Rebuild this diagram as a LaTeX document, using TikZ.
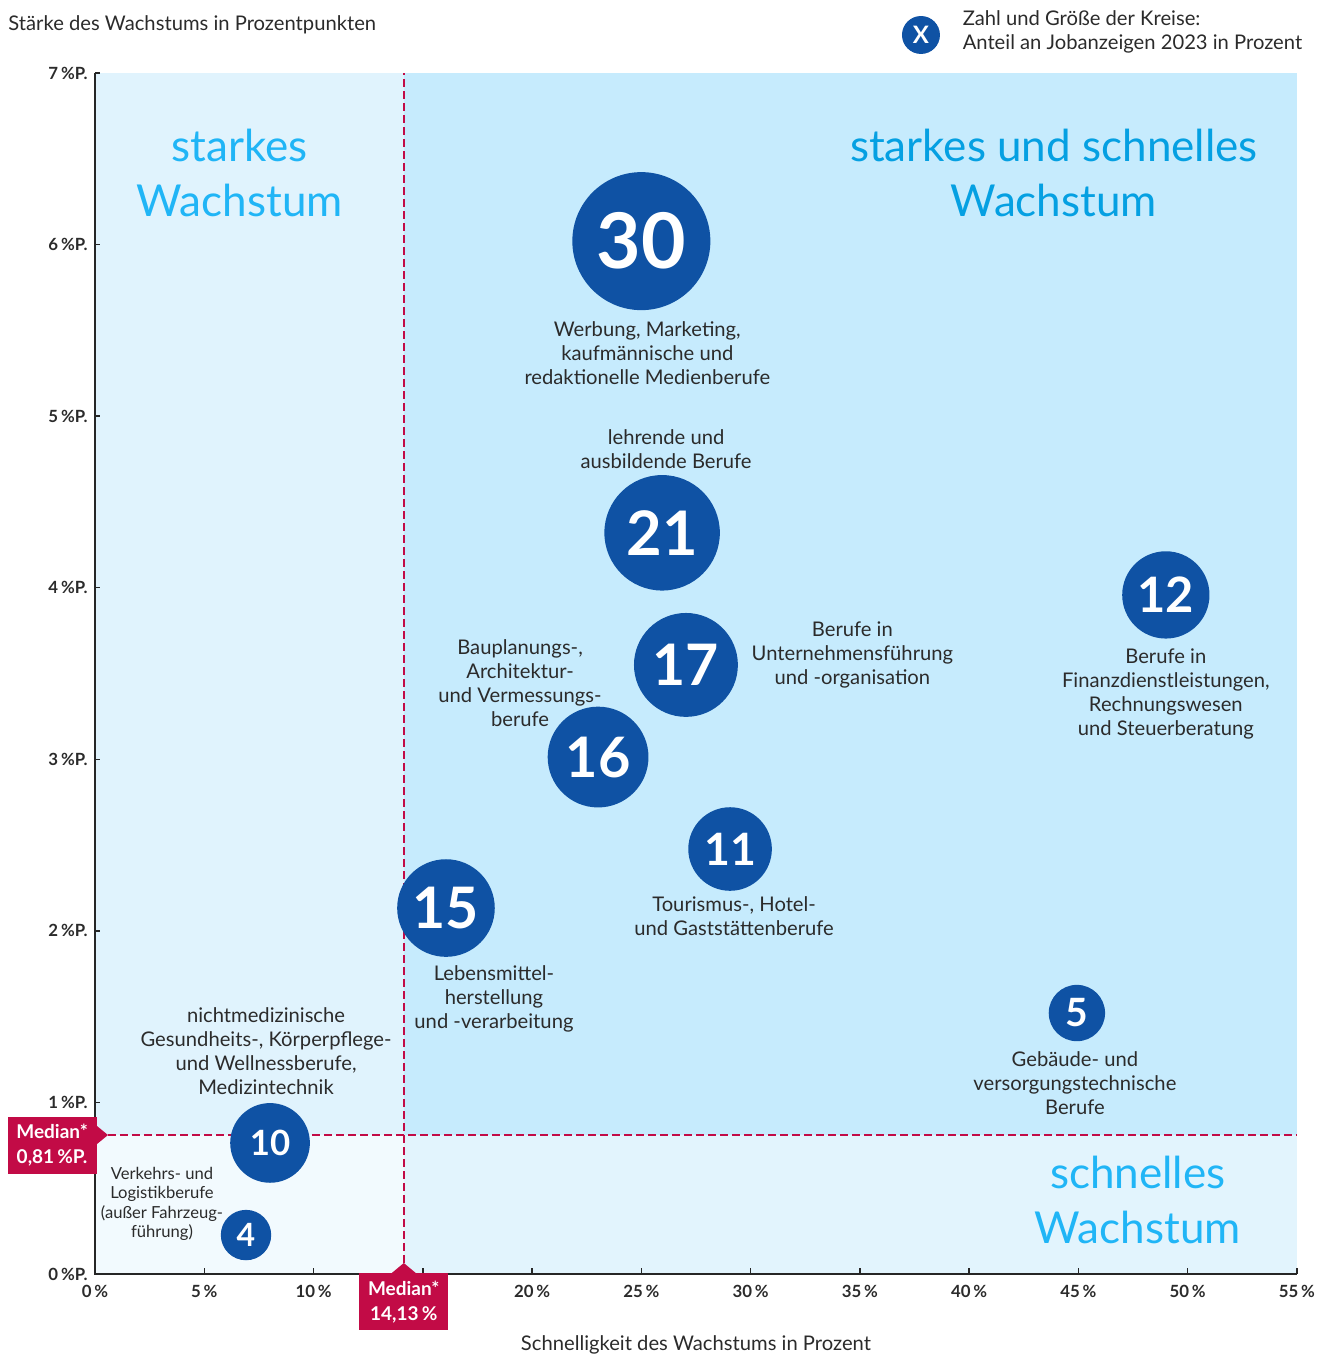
\documentclass[tikz,border=0pt]{standalone}
\usepackage{fontspec}
\setmainfont{Lato}
\usetikzlibrary{positioning}

\definecolor{bubbleblue}{HTML}{0F52A4}
\definecolor{medianred}{HTML}{C20B46}
\definecolor{fieldul}{HTML}{E0F3FD}
\definecolor{fieldur}{HTML}{C6EBFD}
\definecolor{fieldll}{HTML}{F2FAFE}
\definecolor{fieldlr}{HTML}{E2F4FD}
\definecolor{quaddark}{HTML}{05A0E2}
\definecolor{quadlight}{HTML}{20B5F6}
\definecolor{labelgray}{HTML}{2B2B2B}

\tikzset{
  bubble/.style 2 args={circle, fill=bubbleblue, text=white, inner sep=0pt,
    minimum size={12.6pt*sqrt(#1)}, font=\fontsize{#2}{#2}\selectfont\bfseries},
  lbl/.style={align=center, inner sep=0pt, text=labelgray,
    font=\fontsize{10.1}{12}\selectfont},
  quad/.style={align=center, inner sep=0pt, text=quadlight,
    font=\fontsize{22}{27.5}\selectfont},
  medline/.style={medianred, line width=1pt, dash pattern=on 4pt off 2pt},
  medbox/.style={fill=medianred, text=white, align=center, inner sep=0pt,
    minimum width=44.5pt, minimum height=28.5pt,
    font=\fontsize{9.5}{12.5}\selectfont\bfseries},
  axis/.style={draw=black!85, line width=0.75pt},
  ticklbl/.style={inner sep=0pt, text=labelgray,
    font=\fontsize{8.4}{9}\selectfont\bfseries}
}

\begin{document}
\begin{tikzpicture}[x=10.927pt, y=85.786pt]
\useasboundingbox (-4.3469,-0.4779) rectangle (56.418,7.4255);

% quadrant fields
\fill[fieldul] (0,0.81) rectangle (14.13,7);
\fill[fieldur] (14.13,0.81) rectangle (55,7);
\fill[fieldll] (0,0) rectangle (14.13,0.81);
\fill[fieldlr] (14.13,0) rectangle (55,0.81);

\node[quad] (qstark) at (6.63,6.415) {starkes\\Wachstum};
\node[quad, text=quaddark] (qbeide) at (43.88,6.415) {starkes und schnelles\\Wachstum};
\node[quad] (qschnell) at (47.72,0.434) {schnelles\\Wachstum};

% median lines
\coordinate (ymed) at (0.595,0.81);
\coordinate (ymedend) at (55,0.81);
\coordinate (xmed) at (14.13,0.064);
\coordinate (xmedend) at (14.13,7);
\draw[medline] (xmed) -- (xmedend);
\draw[medline] (ymed) -- (ymedend);

% axes
\draw[axis] (0,7) -- (0,0) -- (55,0);
\foreach \y in {1,...,7}
  \draw[axis] (0,\y) -- ++(2.5pt,0);
\foreach \x in {5,10,...,55}
  \draw[axis] (\x,0) -- ++(0,3pt);
\foreach \y in {0,...,7}
  \node[ticklbl, anchor=east] (ty\y) at (0,\y) [xshift=-3.5pt] {\y\,\%P.};
\foreach \x in {0,5,10,20,25,30,35,40,45,50,55}
  \node[ticklbl, anchor=north] (tx\x) at (\x,0) [yshift=-5.5pt] {\x\,\%};

\node[lbl, anchor=west] (ytitle) at (-3.98,7.2798) {Stärke des Wachstums in Prozentpunkten};
\node[lbl] (xtitle) at (27.5,-0.4138) {Schnelligkeit des Wachstums in Prozent};

% median boxes
\node[medbox, left=5.5pt of ymed, yshift=-5.25pt] (ybox) {Median*\\0,81\,\%P.};
\fill[medianred] (ymed) -- ++(-5.5pt,4.5pt) -- ++(0,-9pt) -- cycle;
\node[medbox, below=5pt of xmed] (xbox) {Median*\\14,13\,\%};
\fill[medianred] (xmed) -- ++(-6pt,-5pt) -- ++(12pt,0) -- cycle;

% bubbles
\node[bubble={30}{38.4}] (c30) at (25,6.02) {30};
\node[bubble={21}{30.7}] (c21) at (25.95,4.32) {21};
\node[bubble={17}{28.6}] (c17) at (27.04,3.55) {17};
\node[bubble={16}{27.9}] (c16) at (23.02,3.013) {16};
\node[bubble={12}{24.4}] (c12) at (49,3.958) {12};
\node[bubble={11}{22.3}] (c11) at (29.06,2.477) {11};
\node[bubble={15}{28.6}] (c15) at (16.06,2.133) {15};
\node[bubble={5}{19.5}] (c5) at (44.93,1.521) {5};
\node[bubble={10}{17.4}] (c10) at (8.01,0.764) {10};
\node[bubble={4}{16}] (c4) at (6.91,0.227) {4};

\node[lbl, below=5.5pt of c30, xshift=3pt] (l30) {Werbung, Marketing,\\kaufmännische und\\redaktionelle Medienberufe};
\node[lbl, above=3pt of c21, xshift=2pt] (l21) {lehrende und\\ausbildende Berufe};
\node[lbl, right=6.5pt of c17, yshift=5pt] (l17) {Berufe in\\Unternehmensführung\\und -organisation};
\node[lbl] (l16) at (19.45,3.445) {Bauplanungs-,\\Architektur-\\und Vermessungs-\\berufe};
\node[lbl, below=4.5pt of c12] (l12) {Berufe in\\Finanzdienstleistungen,\\Rechnungswesen\\und Steuerberatung};
\node[lbl, below=2.5pt of c11, xshift=2pt] (l11) {Tourismus-, Hotel-\\und Gaststättenberufe};
\node[lbl, below=4pt of c15, xshift=24pt] (l15) {Lebensmittel-\\herstellung\\und -verarbeitung};
\node[lbl, below=5pt of c5, xshift=-1pt] (l5) {Gebäude- und\\versorgungstechnische\\Berufe};
\node[lbl, above=4pt of c10, xshift=-2pt] (l10) {nichtmedizinische\\Gesundheits-, Körperpflege-\\und Wellnessberufe,\\Medizintechnik};
\node[lbl, font=\fontsize{8.3}{9.75}\selectfont] (l4) at (3.066,0.408) {Verkehrs- und\\Logistikberufe\\(außer Fahrzeug-\\führung)};

% key
\node[bubble={2.27}{12}] (key) at (37.795,7.2215) {X};
\node[lbl, right=11pt of key, yshift=1.5pt, align=left] (keytxt) {Zahl und Größe der Kreise:\\Anteil an Jobanzeigen 2023 in Prozent};
\end{tikzpicture}
\end{document}
